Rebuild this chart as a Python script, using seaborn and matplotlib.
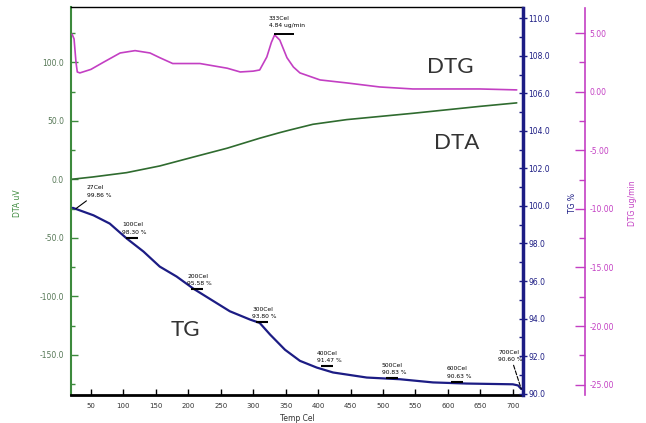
import matplotlib
matplotlib.use("Agg")
import matplotlib.pyplot as plt
import seaborn as sns
import numpy as np
import pandas as pd
from matplotlib.ticker import MultipleLocator, FormatStrFormatter
from matplotlib.transforms import offset_copy

sns.set_theme(style="white")
plt.rcParams["font.family"] = ["DejaVu Sans"]

# ---------------- data ----------------
tg_temp = [22, 54, 79, 105, 131, 156, 182, 208, 264, 295, 310, 326, 349, 372, 398, 423, 475, 526, 577, 629, 700, 708, 713]
tg_val = [99.90, 99.50, 99.06, 98.27, 97.57, 96.77, 96.24, 95.59, 94.39, 93.95, 93.77, 93.15, 92.34, 91.75, 91.39, 91.13, 90.86, 90.77, 90.60, 90.54, 90.50, 90.44, 90.25]

dta_temp = [20, 53, 105, 156, 207, 260, 310, 341, 357, 392, 444, 546, 649, 706]
dta_val = [0.0, 2.0, 5.7, 11.4, 18.9, 26.6, 35.1, 39.9, 42.2, 47.0, 51.0, 56.4, 62.3, 65.3]

dtg_temp = [21, 24, 27, 29, 33, 50, 69, 95, 118, 141, 156, 176, 218, 260, 280, 300, 310, 321, 328, 333, 341, 352, 362, 372, 403, 445, 495, 546, 649, 706]
dtg_val = [4.9, 4.5, 2.5, 1.68, 1.6, 1.9, 2.5, 3.3, 3.5, 3.3, 2.9, 2.4, 2.4, 2.0, 1.68, 1.75, 1.85, 2.96, 4.2, 4.84, 4.4, 2.9, 2.1, 1.6, 1.0, 0.74, 0.4, 0.23, 0.23, 0.15]

ann_temp = [27, 100, 200, 300, 400, 500, 600, 700]
ann_val = [99.86, 98.30, 95.58, 93.80, 91.47, 90.83, 90.63, 90.60]
peak_temp = 333
peak_val = 4.84

x_ticks = list(range(50, 701, 50))

# ---------------- colours ----------------
c_dta = "#2f6b2f"
c_dta_axis = "#3d8a3d"
c_tg = "#1c1c84"
c_dtg = "#c33fc3"

fig = plt.figure(figsize=(6.46, 4.23), dpi=100)
L, R, T, B = 71, 523, 7.5, 395
ax = fig.add_axes([L / 646, 1 - B / 423, (R - L) / 646, (B - T) / 423])
ax_tg = ax.twinx()
ax_dtg = ax.twinx()

df_dta = pd.DataFrame({"temp": dta_temp, "val": dta_val})
df_tg = pd.DataFrame({"temp": tg_temp, "val": tg_val})
df_dtg = pd.DataFrame({"temp": dtg_temp, "val": dtg_val})

sns.lineplot(data=df_dta, x="temp", y="val", ax=ax, color=c_dta, lw=1.2)
sns.lineplot(data=df_tg, x="temp", y="val", ax=ax_tg, color=c_tg, lw=1.6)
sns.lineplot(data=df_dtg, x="temp", y="val", ax=ax_dtg, color=c_dtg, lw=1.2)

ax.set_xlim(19.3, 715.7)
ax.set_ylim(-184.3, 146.8)
ax_tg.set_ylim(89.93, 110.57)
ax_dtg.set_ylim(-25.88, 7.18)

# spines
for a in (ax, ax_tg, ax_dtg):
    for s in a.spines.values():
        s.set_visible(False)
ax.spines["left"].set_visible(True)
ax.spines["left"].set_color(c_dta_axis)
ax.spines["left"].set_linewidth(1.5)
ax.spines["bottom"].set_visible(True)
ax.spines["bottom"].set_color("black")
ax.spines["bottom"].set_linewidth(2.0)
ax.spines["top"].set_visible(True)
ax.spines["top"].set_color("black")
ax.spines["top"].set_linewidth(1.0)
ax_tg.spines["right"].set_visible(True)
ax_tg.spines["right"].set_color(c_tg)
ax_tg.spines["right"].set_linewidth(2.5)
ax_dtg.spines["right"].set_visible(True)
ax_dtg.spines["right"].set_color(c_dtg)
ax_dtg.spines["right"].set_linewidth(1.2)
ax_dtg.spines["right"].set_position(("axes", (585 - L) / (R - L)))

# x axis
ax.set_xticks(x_ticks)
ax.set_xticklabels([str(t) for t in x_ticks])
ax.tick_params(axis="x", direction="in", length=4, width=1, colors="black",
               labelsize=5, pad=6, bottom=True, labelcolor="#333333")
ax.set_xlabel("Temp Cel", fontsize=5.5, color="#333333", labelpad=1)
ax.xaxis.set_label_coords(0.5, -0.048)

# left (DTA)
ax.yaxis.set_major_locator(MultipleLocator(50))
ax.yaxis.set_minor_locator(MultipleLocator(25))
ax.yaxis.set_major_formatter(FormatStrFormatter("%.1f"))
ax.tick_params(axis="y", which="both", direction="in", left=True, color=c_dta_axis,
               labelsize=5.5, labelcolor="#557755", pad=5)
ax.tick_params(axis="y", which="major", length=5, width=1)
ax.tick_params(axis="y", which="minor", length=3, width=1)
ax.set_ylabel("DTA uV", fontsize=5.5, color=c_dta_axis)
ax.yaxis.set_label_coords(-0.108, 0.495)

# TG axis
ax_tg.yaxis.set_major_locator(MultipleLocator(2))
ax_tg.yaxis.set_minor_locator(MultipleLocator(1))
ax_tg.yaxis.set_major_formatter(FormatStrFormatter("%.1f"))
ax_tg.tick_params(axis="y", which="both", right=True, color=c_tg, labelsize=5.5,
                  labelcolor=c_tg, pad=1)
ax_tg.tick_params(axis="y", which="major", direction="inout", length=6, width=1)
ax_tg.tick_params(axis="y", which="minor", direction="in", length=3, width=1)
ax_tg.set_ylabel("TG %", fontsize=5.5, color=c_tg)
ax_tg.yaxis.set_label_coords((568 - L) / (R - L), 0.495)

# DTG axis
ax_dtg.yaxis.set_major_locator(MultipleLocator(5))
ax_dtg.yaxis.set_minor_locator(MultipleLocator(2.5))
ax_dtg.yaxis.set_major_formatter(FormatStrFormatter("%.2f"))
ax_dtg.tick_params(axis="y", which="both", right=True, direction="in", color=c_dtg,
                   labelsize=5.5, labelcolor=c_dtg, pad=3)
ax_dtg.tick_params(axis="y", which="major", length=7, width=1)
ax_dtg.tick_params(axis="y", which="minor", length=4, width=1)
ax_dtg.set_ylabel("DTG ug/min", fontsize=5.5, color=c_dtg)
ax_dtg.yaxis.set_label_coords((628 - L) / (R - L), 0.495)

for a in (ax, ax_tg, ax_dtg):
    a.grid(False)
ax.set_facecolor("white")
ax_tg.patch.set_visible(False)
ax_dtg.patch.set_visible(False)

# big labels
big = dict(fontsize=16, color="#333333", family="Lato", ha="center", va="center")
ax.text((450 - L) / (R - L), (B - 67) / (B - T), "DTG", transform=ax.transAxes, **big)
ax.text((457 - L) / (R - L), (B - 143) / (B - T), "DTA", transform=ax.transAxes, **big)
ax.text((185 - L) / (R - L), (B - 330) / (B - T), "TG", transform=ax.transAxes, **big)

# TG annotations
fs_ann = 4.3
dash_tr = offset_copy(ax_tg.transData, fig=fig, x=9, y=0, units="dots")
mid = list(range(1, len(ann_temp) - 1))
ax_tg.plot([ann_temp[i] for i in mid], [ann_val[i] for i in mid], ls="none",
           marker="_", ms=8, mew=1.5, color="black", transform=dash_tr)
for i, (t, v) in enumerate(zip(ann_temp, ann_val)):
    label = f"{t}Cel\n{v:.2f} %"
    if i == 0:
        ax_tg.annotate(label, xy=(t, v), xytext=(11, 11), textcoords="offset pixels",
                       fontsize=fs_ann, ha="left", va="bottom", color="black",
                       linespacing=1.6,
                       arrowprops=dict(arrowstyle="-", color="black", lw=0.8,
                                       shrinkA=0, shrinkB=0))
    elif i == len(ann_temp) - 1:
        ax_tg.annotate(label, xy=(tg_temp[-1], tg_val[-1]), xytext=(-23, 27),
                       textcoords="offset pixels", fontsize=fs_ann, ha="left",
                       va="bottom", color="black", linespacing=1.6,
                       arrowprops=dict(arrowstyle="-", color="black", lw=0.8,
                                       ls="--", shrinkA=0, shrinkB=0))
    else:
        ax_tg.annotate(label, xy=(t, v), xytext=(-1, 3), textcoords="offset pixels",
                       fontsize=fs_ann, ha="left", va="bottom", color="black",
                       linespacing=1.6)

# DTG peak annotation
peak_tr = offset_copy(ax_dtg.transData, fig=fig, x=9, y=1, units="dots")
ax_dtg.plot([peak_temp], [peak_val], ls="none", marker="_", ms=14, mew=1.4,
            color="black", transform=peak_tr)
ax_dtg.annotate(f"{peak_temp}Cel\n{peak_val:.2f} ug/min", xy=(peak_temp, peak_val),
                xytext=(-6, 7), textcoords="offset pixels", fontsize=fs_ann,
                ha="left", va="bottom", color="black", linespacing=1.6)

fig.savefig("out.png", dpi=100, facecolor="white")
